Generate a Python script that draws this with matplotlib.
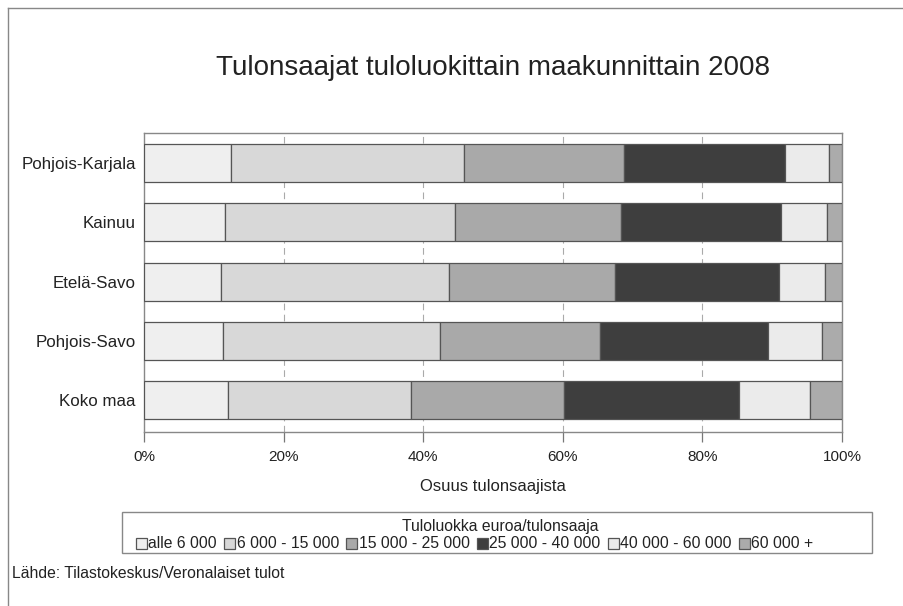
import matplotlib
matplotlib.use("Agg")
import matplotlib.pyplot as plt
import numpy as np
from matplotlib.patches import Rectangle
from matplotlib.lines import Line2D

plt.rcParams['font.family'] = ['Liberation Sans', 'DejaVu Sans']

regions = ['Koko maa', 'Pohjois-Savo', 'Etelä-Savo', 'Kainuu', 'Pohjois-Karjala']
classes = ['alle 6 000', '6 000 - 15 000', '15 000 - 25 000',
           '25 000 - 40 000', '40 000 - 60 000', '60 000 +']
# shares (%) per income class, rows follow regions (bottom to top)
alle_6000 = [12.1, 11.3, 11.0, 11.6, 12.4]
r6000_15000 = [26.1, 31.1, 32.7, 32.9, 33.4]
r15000_25000 = [22.0, 22.9, 23.8, 23.8, 22.9]
r25000_40000 = [25.1, 24.1, 23.5, 23.0, 23.1]
r40000_60000 = [10.1, 7.8, 6.6, 6.6, 6.3]
yli_60000 = [4.6, 2.8, 2.4, 2.1, 1.9]
series = [alle_6000, r6000_15000, r15000_25000, r25000_40000, r40000_60000, yli_60000]
colors = ['#efefef', '#d8d8d8', '#a9a9a9', '#3e3e3e', '#ebebeb', '#ababab']

W, H = 904, 606
fig = plt.figure(figsize=(W / 100, H / 100), dpi=100, facecolor='white')
ax = fig.add_axes([144 / W, 1 - 432 / H, 698 / W, 299 / H])

y = np.arange(len(regions))
left = np.zeros(len(regions))
handles = []
for vals, c, lab in zip(series, colors, classes):
    b = ax.barh(y, vals, left=left, height=0.64, color=c, edgecolor='#555555',
                linewidth=0.9, label=lab, zorder=3)
    left += np.array(vals)
    handles.append(b)

ax.set_xlim(0, 100)
ax.set_ylim(-0.54, 4.51)
ax.set_yticks(y)
ax.set_yticklabels(regions, fontsize=12.2, color='#222222')
ax.tick_params(axis='y', length=0, pad=6)
ax.set_xticks([0, 20, 40, 60, 80, 100])
ax.set_xticklabels(['0%', '20%', '40%', '60%', '80%', '100%'], fontsize=11, color='#222222')
ax.tick_params(axis='x', length=7, width=0.9, color='#777777', direction='out', pad=6)
for xv in [20, 40, 60, 80]:
    ax.axvline(xv, color='#aaaaaa', linewidth=0.8, linestyle=(0, (6, 4)), zorder=1)
for s in ax.spines.values():
    s.set_color('#888888')
    s.set_linewidth(1)
ax.set_xlabel('Osuus tulonsaajista', fontsize=12, color='#222222', labelpad=11)

fig.text(493 / W, 1 - 68 / H, 'Tulonsaajat tuloluokittain maakunnittain 2008',
         ha='center', va='center', fontsize=20, color='#222222')

# legend box
fig.patches.append(Rectangle((122 / W, 1 - 553 / H), 750 / W, 41 / H, transform=fig.transFigure,
                             facecolor='none', edgecolor='#888888', linewidth=1))
fig.text(500 / W, 1 - 526 / H, 'Tuloluokka euroa/tulonsaaja', ha='center', va='center',
         fontsize=11.3, color='#222222')
fig.legend(handles=handles, labels=classes, ncol=6, frameon=False, fontsize=11.3,
           loc='center left', bbox_to_anchor=(128 / W, 1 - 544 / H), borderpad=0,
           handlelength=0.7, handleheight=0.7, handletextpad=0.1, columnspacing=0.45,
           labelcolor='#222222')

fig.text(12 / W, 1 - 574 / H, 'Lähde: Tilastokeskus/Veronalaiset tulot', ha='left', va='center',
         fontsize=11.3, color='#222222')

# outer frame
fig.add_artist(Line2D([8 / W, 8 / W], [0, 1 - 8 / H], transform=fig.transFigure,
                      color='#888888', linewidth=1))
fig.add_artist(Line2D([8 / W, 1], [1 - 8 / H, 1 - 8 / H], transform=fig.transFigure,
                      color='#888888', linewidth=1))

fig.savefig('out.png', dpi=100)
